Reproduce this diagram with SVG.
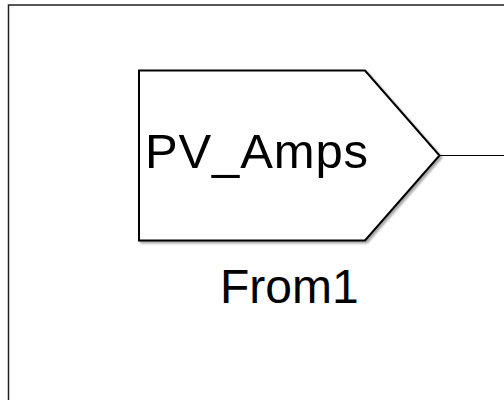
<svg xmlns="http://www.w3.org/2000/svg" width="504" height="400" viewBox="0 0 504 400">
<style>
.lbl{font-family:"Liberation Sans",Arial,sans-serif;fill:#000}
</style>
<defs>
<filter id="sh" x="-10%" y="-10%" width="130%" height="130%">
<feGaussianBlur in="SourceAlpha" stdDeviation="1.2"/>
<feOffset dx="2" dy="2" result="b"/>
<feComponentTransfer><feFuncA type="linear" slope="0.35"/></feComponentTransfer>
<feMerge><feMergeNode/><feMergeNode in="SourceGraphic"/></feMerge>
</filter>
</defs>
<rect width="504" height="400" fill="#fff"/>
<path d="M8.5 400 V5 H504" fill="none" stroke="#222" stroke-width="1.5"/>
<g id="connectors">
<line x1="439.5" y1="155.5" x2="504" y2="155.5" stroke="#000" stroke-width="1"/>
</g>
<g id="From1">
<polygon points="139,70.5 365,70.5 439.5,155.5 365,240.5 139,240.5" fill="#fff" stroke="#000" stroke-width="2" filter="url(#sh)"/>
<text class="lbl" x="145" y="168" font-size="49" textLength="223">PV_Amps</text>
<text class="lbl" x="220" y="303" font-size="48">From1</text>
</g>
</svg>
